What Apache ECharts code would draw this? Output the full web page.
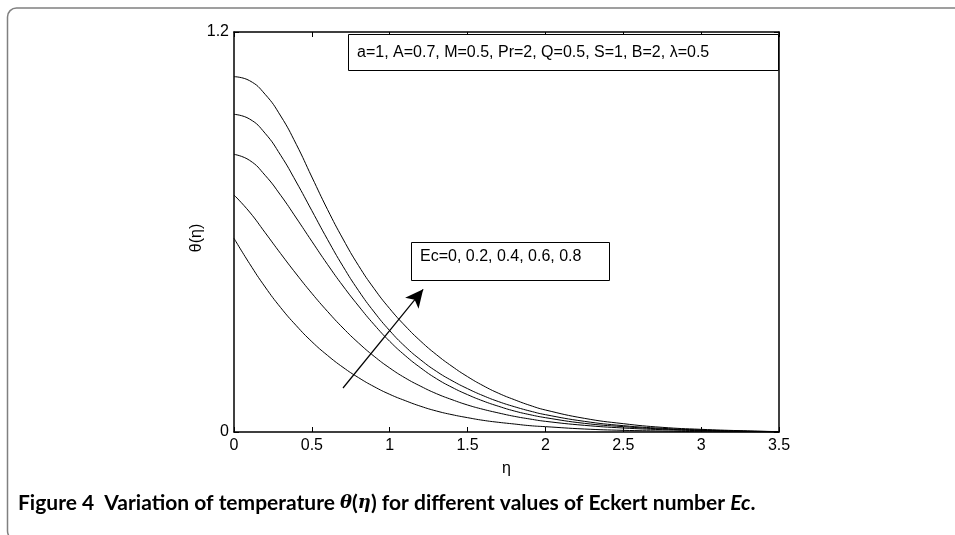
<!DOCTYPE html>
<html><head><meta charset="utf-8">
<script src="https://cdn.jsdelivr.net/npm/echarts@6/dist/echarts.min.js"></script>
<style>html,body{margin:0;padding:0;background:#fff}#c{width:955px;height:535px}</style>
</head><body><div id="c"></div>
<script>
const eta = [0,0.1,0.2,0.3,0.4,0.5,0.6,0.7,0.8,0.9,1.0,1.1,1.2,1.3,1.4,1.5,1.6,1.7,1.8,1.9,2.0,2.25,2.5,2.75,3.0,3.25,3.5];
const ec08 = [1.066,1.054,1.013,0.948,0.863,0.765,0.668,0.579,0.499,0.43,0.37,0.318,0.272,0.232,0.197,0.166,0.139,0.116,0.097,0.08,0.066,0.041,0.025,0.014,0.008,0.004,0.001];
const ec06 = [0.953,0.939,0.896,0.83,0.75,0.664,0.578,0.497,0.424,0.36,0.304,0.256,0.216,0.182,0.154,0.13,0.109,0.091,0.076,0.063,0.052,0.032,0.019,0.011,0.006,0.003,0.001];
const ec04 = [0.833,0.815,0.77,0.71,0.642,0.572,0.503,0.438,0.378,0.322,0.272,0.229,0.192,0.16,0.134,0.112,0.093,0.077,0.063,0.052,0.043,0.026,0.016,0.009,0.005,0.002,0.001];
const ec02 = [0.711,0.66,0.598,0.535,0.474,0.416,0.362,0.312,0.267,0.227,0.192,0.162,0.137,0.115,0.097,0.081,0.068,0.057,0.047,0.039,0.032,0.02,0.012,0.007,0.004,0.002,0];
const ec00 = [0.581,0.505,0.435,0.373,0.319,0.271,0.23,0.194,0.163,0.136,0.113,0.094,0.077,0.063,0.052,0.043,0.035,0.029,0.024,0.019,0.016,0.009,0.005,0.003,0.001,0.0005,0];
const seriesValues = [ec00, ec02, ec04, ec06, ec08];
const seriesNames = ['Ec=0','Ec=0.2','Ec=0.4','Ec=0.6','Ec=0.8'];
const arrowStart = [0.70, 0.132];
const arrowEnd = [1.215, 0.428];
const paramText = 'a=1, A=0.7, M=0.5, Pr=2, Q=0.5, S=1, B=2, \u03bb=0.5';
const ecText = 'Ec=0, 0.2, 0.4, 0.6, 0.8';
const yName = '\u03b8(\u03b7)';
const xName = '\u03b7';

const chart = echarts.init(document.getElementById('c'), null, {renderer:'canvas'});
const axLine = {show:true, onZero:false, lineStyle:{color:'#000', width:1.5}};
const tick = {show:true, inside:true, length:5, lineStyle:{color:'#000', width:1}};
const font = 'Liberation Sans';
const series = seriesValues.map((vals, i) => ({
  name: seriesNames[i], type:'line', showSymbol:false, smooth:0.5,
  lineStyle:{color:'#000', width:1}, silent:true, animation:false,
  data: eta.map((x, j) => [x, vals[j]])
}));
series[0].markLine = {
  silent:true, animation:false, symbol:['none','arrow'], symbolSize:[13,18],
  lineStyle:{color:'#000', width:1.2, type:'solid'}, label:{show:false},
  data:[[{coord:arrowStart},{coord:arrowEnd}]]
};
chart.setOption({
  animation:false,
  backgroundColor:'#fff',
  grid:{left:234, right:176, top:32, bottom:103},
  xAxis:[{
    type:'value', min:0, max:3.5, interval:0.5, position:'bottom',
    name:xName, nameLocation:'middle', nameGap:29,
    nameTextStyle:{fontFamily:font, fontSize:16, color:'#000'},
    axisLine:axLine, splitLine:{show:false}, axisTick:tick,
    axisLabel:{fontFamily:font, fontSize:16, color:'#000', margin:6}
  },{
    type:'value', min:0, max:3.5, interval:0.5, position:'top',
    axisLine:axLine, splitLine:{show:false}, axisTick:tick,
    axisLabel:{show:false}
  }],
  yAxis:[{
    type:'value', min:0, max:1.2, interval:1.2, position:'left',
    axisLine:axLine, splitLine:{show:false}, axisTick:tick,
    axisLabel:{fontFamily:font, fontSize:16, color:'#000', margin:5}
  },{
    type:'value', min:0, max:1.2, interval:1.2, position:'right',
    axisLine:axLine, splitLine:{show:false}, axisTick:tick,
    axisLabel:{show:false}
  }],
  series: series,
  graphic:[
    {type:'rect', shape:{x:7.5, y:8, width:1000, height:532, r:9},
     style:{fill:'none', stroke:'#808080', lineWidth:1.5}, silent:true},
    {type:'text', x:197, y:238, rotation:Math.PI/2, silent:true,
     style:{text:yName, fontFamily:font, fontSize:16, fill:'#000', align:'center', verticalAlign:'middle'}},
    {type:'rect', shape:{x:348.5, y:34.5, width:430, height:36},
     style:{fill:'#fff', stroke:'#000', lineWidth:1}, silent:true, z:10},
    {type:'text', x:357, y:53, z:11, silent:true,
     style:{text:paramText, fontFamily:font, fontSize:16, fill:'#000', verticalAlign:'middle'}},
    {type:'rect', shape:{x:411.5, y:242.5, width:198, height:38},
     style:{fill:'#fff', stroke:'#000', lineWidth:1}, silent:true, z:10},
    {type:'text', x:420, y:257, z:11, silent:true,
     style:{text:ecText, fontFamily:font, fontSize:16, fill:'#000', verticalAlign:'middle'}},
    {type:'text', x:18, y:503, z:11, silent:true,
     style:{
       text:'{b|Figure 4  Variation of temperature }{i|\u03b8}{b|(}{i|\u03b7}{b|) for different values of Eckert number }{e|Ec}{b|.}',
       verticalAlign:'middle',
       rich:{
         b:{fontFamily:'Lato', fontWeight:'bold', fontSize:21, fill:'#000'},
         e:{fontFamily:'Lato', fontWeight:'bold', fontStyle:'italic', fontSize:21, fill:'#000'},
         i:{fontFamily:'DejaVu Serif', fontWeight:'bold', fontStyle:'italic', fontSize:18, fill:'#000'}
       }
     }}
  ]
});
</script></body></html>
